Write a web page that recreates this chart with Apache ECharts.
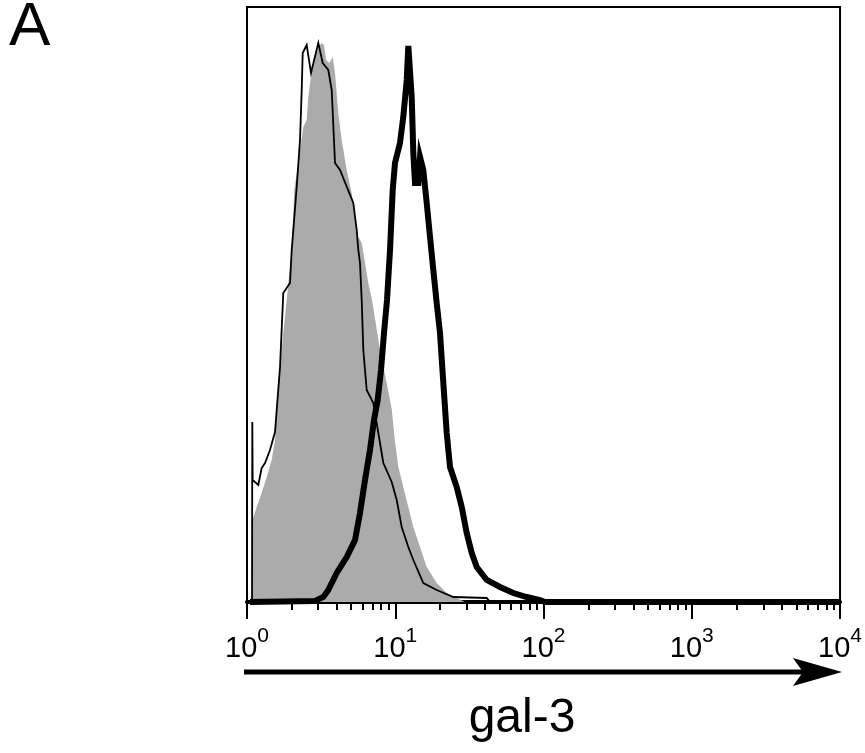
<!DOCTYPE html>
<html>
<head>
<meta charset="utf-8">
<script src="https://cdn.jsdelivr.net/npm/echarts@6/dist/echarts.min.js"></script>
<style>
  html, body { margin: 0; padding: 0; background: #ffffff; }
  #chart { width: 865px; height: 753px; }
</style>
</head>
<body>
<div id="chart"></div>
<script>
// ---- data (x = fluorescence intensity, y = relative cell count) ----
const majorTicks = [1, 10, 100, 1000, 10000];

const isotypeFill = [ // grey filled histogram
  [1.081, 0], [1.089, 82], [1.163, 95], [1.256, 109], [1.358, 125], [1.467, 142],
  [1.545, 162], [1.626, 219], [1.757, 269], [1.853, 302], [2.002, 352], [2.085, 412],
  [2.398, 475], [2.527, 482], [2.591, 505], [2.732, 532], [2.875, 545], [3.074, 556],
  [3.191, 559], [3.307, 557], [3.411, 542], [3.591, 539], [3.785, 545], [3.923, 529],
  [4.129, 489], [4.353, 462], [4.704, 432], [5.085, 409], [5.353, 385], [5.634, 365],
  [5.938, 359], [6.252, 339], [6.580, 319], [6.969, 302], [7.417, 277], [7.889, 252],
  [8.756, 219], [9.464, 193], [9.961, 160], [10.49, 135], [11.33, 115], [12.25, 95],
  [13.24, 75], [14.69, 55], [16.30, 35], [19.03, 19], [22.24, 9], [25.97, 4], [29.54, 0]
];

const thinLine = [
  [1.081, 0], [1.086, 180], [1.092, 122], [1.192, 117], [1.256, 134], [1.323, 139],
  [1.429, 152], [1.545, 170], [1.670, 235], [1.757, 309], [1.950, 319], [2.002, 352],
  [2.053, 372], [2.164, 415], [2.278, 462], [2.339, 512], [2.375, 549], [2.527, 557],
  [2.702, 529], [3.027, 559], [3.241, 539], [3.535, 532], [3.727, 512], [3.923, 439],
  [4.240, 432], [5.212, 399], [5.495, 372], [5.634, 352], [5.783, 339], [5.938, 302],
  [6.088, 252], [6.418, 212], [7.111, 199], [7.687, 169], [8.308, 139], [9.464, 120],
  [10.23, 102], [11.05, 75], [12.25, 55], [13.24, 42], [15.46, 19], [19.03, 12],
  [24.64, 5], [41.4, 4], [43.6, 0], [10000, 0]
];

const thickLine = [
  [1.048, 0], [2.875, 1], [3.272, 5], [3.535, 12], [4.028, 29], [4.704, 45],
  [5.353, 62], [5.783, 89], [6.252, 122], [6.754, 152], [7.190, 182], [7.613, 202],
  [8.015, 232], [8.397, 269], [8.798, 302], [9.218, 352], [9.612, 412], [9.961, 439],
  [10.76, 459], [11.33, 485], [11.95, 522], [12.25, 556], [12.58, 556], [12.91, 505],
  [13.24, 449], [13.59, 419], [14.31, 419], [14.69, 445], [15.46, 432], [16.30, 399],
  [17.16, 365], [18.06, 332], [19.03, 299], [20.04, 269], [21.10, 219], [22.24, 169],
  [23.41, 135], [25.97, 115], [28.07, 95], [30.34, 69], [32.79, 49], [35.44, 35],
  [41.40, 22], [50.88, 15], [62.56, 9], [77.03, 5], [94.7, 2], [102, 0], [10000, 0]
];

// minor tick positions (2..9 within each decade)
const minorTicks = [];
for (let d = 0; d < majorTicks.length - 1; d++) {
  for (let k = 2; k <= 9; k++) minorTicks.push(majorTicks[d] * k);
}

const FONT = '"Liberation Sans", Arial, sans-serif';
const gridBox = { left: 247, right: 24, top: 7, bottom: 151 };
const yMax = 595;

const chart = echarts.init(document.getElementById('chart'), null, { renderer: 'canvas' });

chart.setOption({
  animation: false,
  backgroundColor: '#ffffff',
  grid: [
    Object.assign({ show: true, borderColor: '#000', borderWidth: 2, backgroundColor: 'transparent' }, gridBox),
    Object.assign({ show: false }, gridBox)
  ],
  xAxis: [
    {
      type: 'log', logBase: 10, min: 1, max: 10000, gridIndex: 0, position: 'bottom',
      axisLine: { show: true, onZero: false, lineStyle: { color: '#000', width: 4 } },
      axisTick: { show: true, length: 17, customValues: majorTicks, lineStyle: { color: '#000', width: 2 } },
      splitLine: { show: false },
      minorTick: { show: false },
      axisLabel: {
        show: true, margin: 24, customValues: majorTicks,
        formatter: function (v) {
          return '{b|10}{sup|' + Math.round(Math.log10(v)) + '}';
        },
        rich: {
          b: { fontFamily: FONT, fontSize: 29, color: '#000', lineHeight: 46, verticalAlign: 'middle' },
          sup: { fontFamily: FONT, fontSize: 21, color: '#000', lineHeight: 21, verticalAlign: 'top' }
        }
      }
    },
    {
      type: 'log', logBase: 10, min: 1, max: 10000, gridIndex: 1, position: 'bottom',
      axisLine: { show: false },
      axisTick: { show: true, length: 8, customValues: minorTicks, lineStyle: { color: '#000', width: 2 } },
      axisLabel: { show: false },
      splitLine: { show: false }
    }
  ],
  yAxis: [
    { type: 'value', min: 0, max: yMax, gridIndex: 0, show: false, splitLine: { show: false } },
    { type: 'value', min: 0, max: yMax, gridIndex: 1, show: false, splitLine: { show: false } }
  ],
  series: [
    {
      name: 'isotype', type: 'line', data: isotypeFill, xAxisIndex: 0, yAxisIndex: 0,
      symbol: 'none', silent: true, z: 1,
      lineStyle: { width: 0, color: '#ababab' },
      areaStyle: { color: '#ababab', opacity: 1 }
    },
    {
      name: 'thin', type: 'line', data: thinLine, xAxisIndex: 0, yAxisIndex: 0,
      symbol: 'none', silent: true, z: 3,
      lineStyle: { width: 1.8, color: '#000', join: 'miter' }
    },
    {
      name: 'thick', type: 'line', data: thickLine, xAxisIndex: 0, yAxisIndex: 0,
      symbol: 'none', silent: true, z: 4,
      lineStyle: { width: 6, color: '#000', join: 'miter', cap: 'butt' }
    }
  ],
  graphic: [
    { type: 'text', x: 9, y: 28, style: { text: 'A', fontFamily: FONT, fontSize: 62, fill: '#000', align: 'left', verticalAlign: 'middle' } },
    { type: 'text', x: 522, y: 719, style: { text: 'gal-3', fontFamily: FONT, fontSize: 48, fill: '#000', align: 'center', verticalAlign: 'middle' } },
    { type: 'line', shape: { x1: 244, y1: 672, x2: 805, y2: 672 }, style: { stroke: '#000', lineWidth: 5 } },
    { type: 'polygon', shape: { points: [[842, 672], [793, 658], [803, 672], [793, 686]] }, style: { fill: '#000' } }
  ]
});
</script>
</body>
</html>
